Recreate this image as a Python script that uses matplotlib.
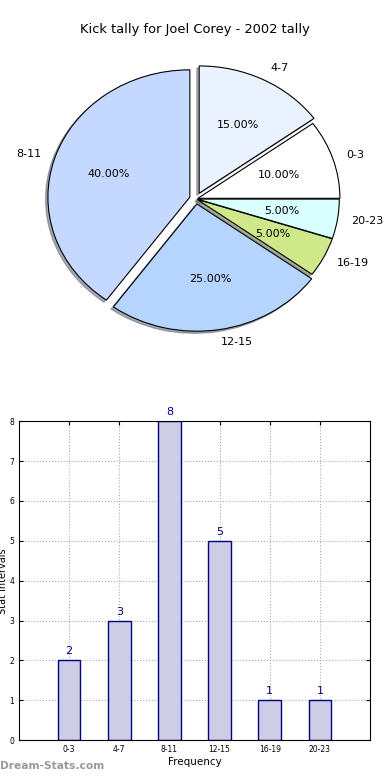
import matplotlib
matplotlib.use('Agg')
import matplotlib.pyplot as plt

categories = ['0-3', '4-7', '8-11', '12-15', '16-19', '20-23']
counts = [2, 3, 8, 5, 1, 1]
pie_colors = ['#ffffff', '#eaf1ff', '#c5d8ff', '#b5d5ff', '#cfe98a', '#d9ffff']
explode = [0.015, 0.05, 0.045, 0.04, 0.01, 0.01]

fig = plt.figure(figsize=(3.9, 7.8), dpi=100)

# pie de cima (eixo nao quadrado, como no original)
ax1 = fig.add_axes([0.0474, 0.541, 0.91, 0.408])
ax1.pie(counts, labels=categories, colors=pie_colors, explode=explode,
        autopct='%.2f%%', shadow={'ox': -0.012, 'oy': -0.012, 'shade': 0.6},
        startangle=0,
        wedgeprops={'edgecolor': 'black', 'linewidth': 0.8},
        textprops={'fontsize': 8})
ax1.set_aspect('auto')
ax1.set_xlim(-1.25, 1.25)
ax1.set_ylim(-1.25, 1.25)
fig.text(0.5, 0.962, 'Kick tally for Joel Corey - 2002 tally', ha='center', va='center', fontsize=9.4)

# barras
ax2 = fig.add_axes([0.0487, 0.051, 0.9, 0.409])
x = list(range(len(categories)))
ax2.bar(x, counts, width=0.45, color='#cdcde6', edgecolor='navy', linewidth=1, zorder=2)
for xi, c in zip(x, counts):
    ax2.text(xi, c + 0.1, str(c), ha='center', va='bottom', color='navy', fontsize=8)
ax2.set_xlim(-1, 6)
ax2.set_ylim(0, 8)
ax2.set_xticks(x)
ax2.set_xticklabels(categories, fontsize=5.5)
ax2.set_yticks(range(9))
ax2.tick_params(axis='y', labelsize=5.5)
ax2.tick_params(direction='in', top=True, right=True, length=3)
ax2.grid(True, linestyle=':', color='#aaaaaa', linewidth=0.8, zorder=0)
ax2.set_axisbelow(True)
ax2.set_xlabel('Frequency', fontsize=7.5, labelpad=2)
ax2.set_ylabel('Stat Intervals', fontsize=7)
ax2.yaxis.set_label_coords(-0.03, 0.5)

fig.text(0.0, 0.012, 'Dream-Stats.com', color='#999999', fontsize=7.7, fontweight='bold', ha='left', va='bottom')

fig.savefig('out.png', dpi=100)
